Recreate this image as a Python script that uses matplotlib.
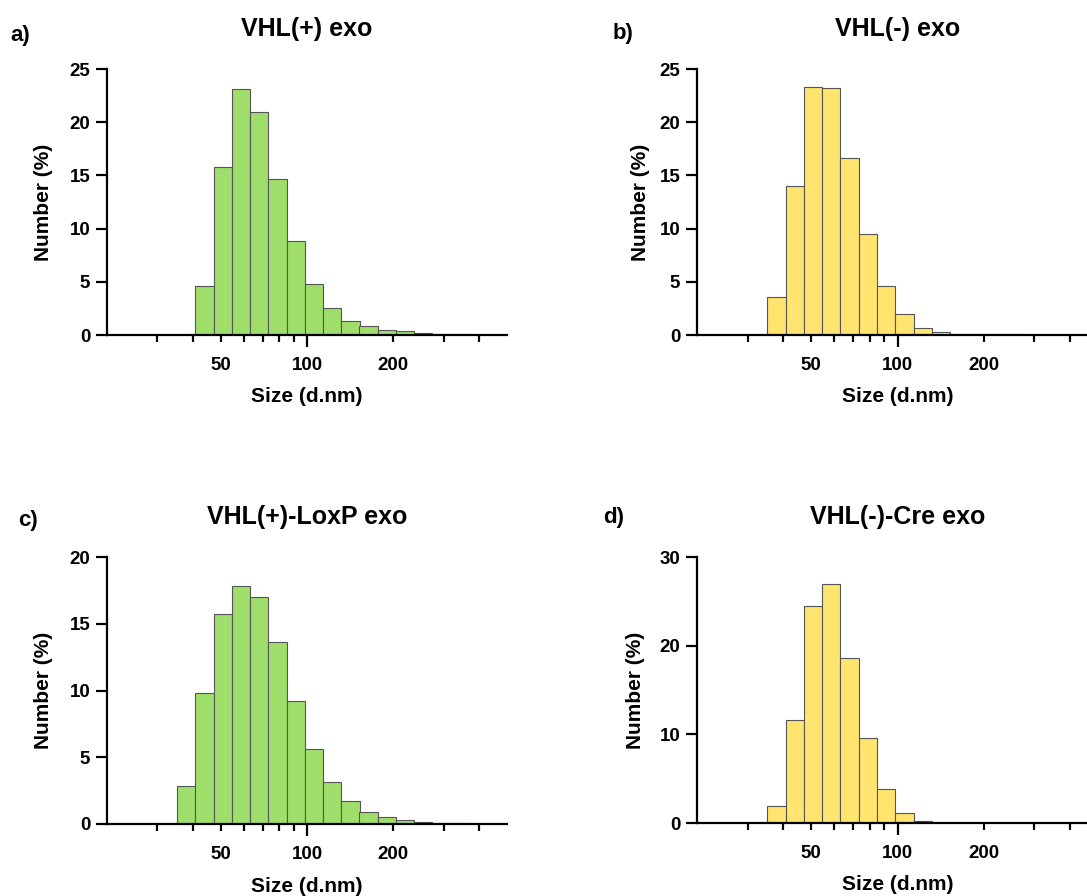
import numpy as np
import matplotlib
matplotlib.use("Agg")
import matplotlib.pyplot as plt
from matplotlib.ticker import FixedLocator, FixedFormatter, NullFormatter

plt.rcParams['font.family'] = ['Liberation Sans', 'DejaVu Sans']
plt.rcParams['font.weight'] = 'bold'

# DLS size classes (d.nm), bar centres
sizes = [37.84, 43.82, 50.75, 58.77, 68.06, 78.82, 91.28, 105.7, 122.4,
         141.8, 164.2, 190.1, 220.2, 255.0, 295.3, 342.0]
bin_ratio = 1.1583  # ratio between neighbouring size classes

vhl_pos = [0, 4.6, 15.8, 23.1, 21.0, 14.7, 8.8, 4.8, 2.5,
           1.35, 0.8, 0.5, 0.35, 0.22, 0.13, 0.07]
vhl_neg = [3.6, 14.05, 23.35, 23.25, 16.65, 9.45, 4.6, 1.95, 0.7,
           0.27, 0.12, 0.08, 0.06, 0.05, 0.04, 0]
vhl_pos_loxp = [2.85, 9.85, 15.75, 17.85, 17.0, 13.65, 9.25, 5.65, 3.15,
                1.7, 0.92, 0.53, 0.3, 0.14, 0.07, 0.04]
vhl_neg_cre = [1.95, 11.6, 24.5, 26.9, 18.6, 9.6, 3.85, 1.15, 0.2,
               0, 0, 0, 0, 0, 0, 0]

titles = ["VHL(+) exo", "VHL(-) exo", "VHL(+)-LoxP exo", "VHL(-)-Cre exo"]
panel_labels = ["a)", "b)", "c)", "d)"]
ymax = [25, 25, 20, 30]
ystep = [5, 5, 5, 10]
minor_x = [30, 40, 50, 60, 70, 80, 90, 200, 300, 400]
major_x = [100]
label_x = [50, 100, 200]

GREEN = '#9FDE6A'
YELLOW = '#FFE470'
colors = [GREEN, YELLOW, GREEN, YELLOW]
series = [vhl_pos, vhl_neg, vhl_pos_loxp, vhl_neg_cre]

W, H = 1087, 896
fig = plt.figure(figsize=(W / 100, H / 100), dpi=100)


def rect(left, right, top, bottom):
    return [left / W, 1 - bottom / H, (right - left) / W, (bottom - top) / H]


rects = [rect(107, 507, 69, 335), rect(697, 1098, 69, 335),
         rect(107, 507, 557, 824), rect(697, 1098, 557, 823)]
ylab_x = [-0.135, -0.117, -0.135, -0.13]
plabel_pos = [(10, 36), (613, 33), (18, 520), (603, 518)]

for i in range(4):
    ax = fig.add_axes(rects[i])
    vals = np.array(series[i], dtype=float)
    s = np.array(sizes)
    keep = vals > 0
    left = s[keep] / np.sqrt(bin_ratio)
    width = s[keep] * np.sqrt(bin_ratio) - left
    ax.bar(left, vals[keep], width=width, align='edge', color=colors[i],
           edgecolor='#555555', linewidth=0.8, zorder=1)
    ax.set_xscale('log')
    ax.set_xlim(20, 500)
    ax.set_ylim(0, ymax[i])
    ax.set_yticks(np.arange(0, ymax[i] + 0.1, ystep[i]))
    ax.xaxis.set_major_locator(FixedLocator(major_x))
    ax.xaxis.set_major_formatter(FixedFormatter(['100']))
    ax.xaxis.set_minor_locator(FixedLocator(minor_x))
    ax.xaxis.set_minor_formatter(FixedFormatter(
        ['' if v not in label_x else str(v) for v in minor_x]))
    for sp in ['top', 'right']:
        ax.spines[sp].set_visible(False)
    for sp in ['left', 'bottom']:
        ax.spines[sp].set_linewidth(1.6)
    ax.tick_params(axis='y', which='major', length=8, width=1.6, pad=4,
                   labelsize=13.5)
    ax.tick_params(axis='x', which='major', length=8.5, width=1.6, pad=7.5,
                   labelsize=13.5)
    ax.tick_params(axis='x', which='minor', length=5, width=1.6, pad=11,
                   labelsize=13.5)
    for lab in ax.get_xticklabels(which='both') + ax.get_yticklabels():
        lab.set_fontweight('bold')
    ax.set_xlabel('Size (d.nm)', fontsize=15, fontweight='bold')
    ax.xaxis.set_label_coords(0.5, -0.197)
    ax.set_ylabel('Number (%)', fontsize=15, fontweight='bold')
    ax.yaxis.set_label_coords(ylab_x[i], 0.5)
    ax.set_title(titles[i], fontsize=18, fontweight='bold', pad=24)
    px, py = plabel_pos[i]
    fig.text(px / W, 1 - py / H, panel_labels[i], fontsize=16,
             fontweight='bold', ha='left', va='center')

fig.savefig('out.png', dpi=100, facecolor='white')
